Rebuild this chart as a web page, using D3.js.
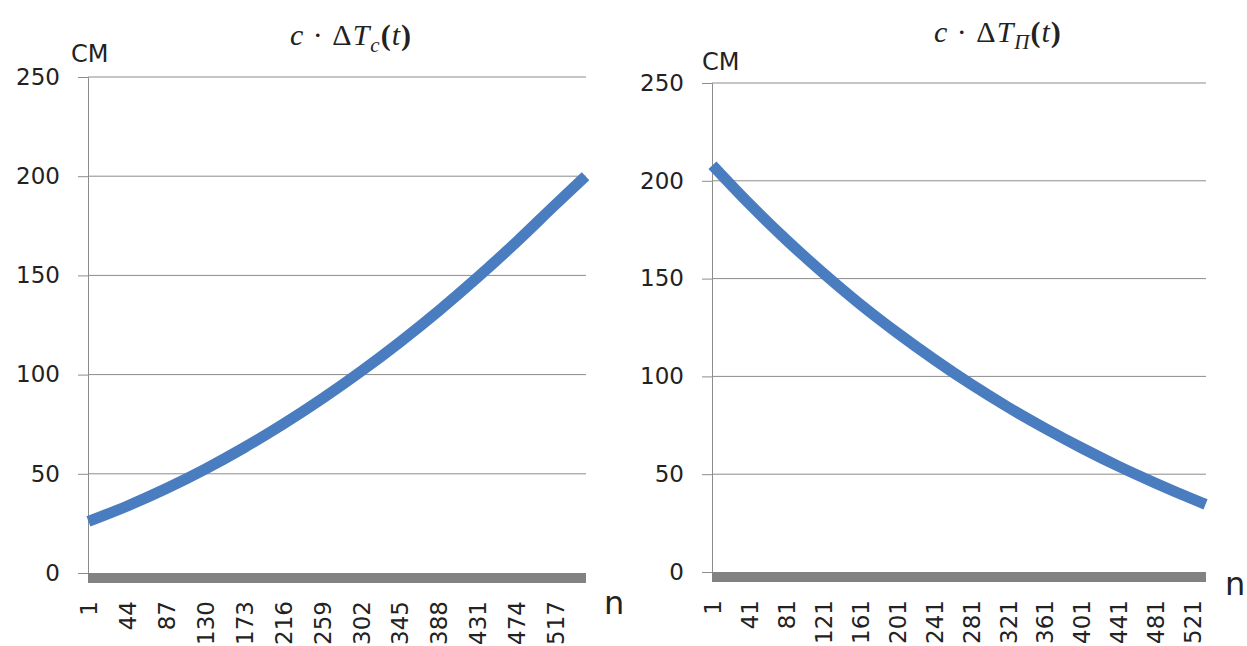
<!DOCTYPE html>
<html>
<head>
<meta charset="utf-8">
<script src="https://cdn.jsdelivr.net/npm/d3@7"></script>
<style>
    body { margin: 0; background: #ffffff; }
    text { font-family: "DejaVu Sans", sans-serif; fill: #222; }
</style>
</head>
<body>
<div id="chart"></div>
<script>
// left chart: c*dTc(t), read at the labelled categories
var countC = 550;
var nC = [1, 44, 87, 130, 173, 216, 259, 302, 345, 388, 431, 474, 517, 550];
var valC = [26, 33.8, 42.6, 52.4, 63.2, 75, 87.8, 101.6, 116.4, 132.2, 149.1, 167, 185.8, 200];
var ticksC = [1, 44, 87, 130, 173, 216, 259, 302, 345, 388, 431, 474, 517];

// right chart: c*dTp(t)
var countP = 535;
var nP = [1, 41, 81, 121, 161, 201, 241, 281, 321, 361, 401, 441, 481, 521, 535];
var valP = [208, 188.2, 169.8, 152.8, 136.9, 122.3, 108.7, 96, 84.3, 73.5, 63.4, 54, 45.4, 37.3, 34.6];
var ticksP = [1, 41, 81, 121, 161, 201, 241, 281, 321, 361, 401, 441, 481, 521];

var yTicks = [0, 50, 100, 150, 200, 250];

var svg = d3.select("#chart")
    .append("svg")
    .attr("width", 1247)
    .attr("height", 646);

drawChart({
    left: 88, right: 586, top: 77, bottom: 573,
    count: countC, n: nC, vals: valC, ticks: ticksC,
    titleX: 290, titleY: 45, sub: "c",
    unitX: 71, unitY: 62, nX: 604, nY: 614
});

drawChart({
    left: 712, right: 1206, top: 83, bottom: 572,
    count: countP, n: nP, vals: valP, ticks: ticksP,
    titleX: 934, titleY: 42, sub: "\u041f",
    unitX: 702, unitY: 70, nX: 1225, nY: 595
});

function drawChart(o) {
    var g = svg.append("g");

    var x = d3.scaleLinear()
        .domain([0.5, o.count + 0.5])
        .range([o.left, o.right]);

    var y = d3.scaleLinear()
        .domain([0, 250])
        .range([o.bottom, o.top]);

    // gridlines
    g.selectAll(".grid")
        .data(yTicks.filter(function (d) { return d > 0; }))
        .enter()
        .append("line")
        .attr("x1", o.left)
        .attr("x2", o.right)
        .attr("y1", function (d) { return y(d); })
        .attr("y2", function (d) { return y(d); })
        .attr("stroke", "#8c8c8c")
        .attr("stroke-width", 1);

    var yAxis = d3.axisLeft(y)
        .tickValues(yTicks)
        .tickSize(10)
        .tickPadding(18);

    var ya = g.append("g")
        .attr("transform", "translate(" + o.left + ",0)")
        .call(yAxis);
    ya.select(".domain").attr("stroke", "#8c8c8c");
    ya.selectAll(".tick line").attr("stroke", "#8c8c8c");
    ya.selectAll("text")
        .style("font-size", "23px")
        .attr("fill", "#222");

    // thick zero line
    g.append("rect")
        .attr("x", o.left)
        .attr("y", y(0))
        .attr("width", o.right - o.left)
        .attr("height", 10)
        .attr("fill", "#828282");

    var xAxis = d3.axisBottom(x)
        .tickValues(o.ticks)
        .tickSize(0);

    var xa = g.append("g")
        .attr("transform", "translate(0," + y(0) + ")")
        .call(xAxis);
    xa.select(".domain").remove();
    xa.selectAll("text")
        .attr("x", 0)
        .attr("y", 0)
        .attr("dy", "0.35em")
        .attr("text-anchor", "end")
        .attr("transform", "translate(0,28) rotate(-90)")
        .style("font-size", "23px")
        .attr("fill", "#222");

    var line = d3.line()
        .x(function (d, i) { return x(o.n[i]); })
        .y(function (d) { return y(d); })
        .curve(d3.curveMonotoneX);

    g.append("path")
        .datum(o.vals)
        .attr("d", line)
        .attr("fill", "none")
        .attr("stroke", "#4a7dbf")
        .attr("stroke-width", 11);

    // unit and axis names
    g.append("text")
        .attr("x", o.unitX)
        .attr("y", o.unitY)
        .style("font-size", "24px")
        .text("\u0421\u041c");

    g.append("text")
        .attr("x", o.nX)
        .attr("y", o.nY)
        .style("font-size", "32px")
        .text("n");

    // title c * dT_x(t)
    var t = g.append("text")
        .attr("x", o.titleX)
        .attr("y", o.titleY)
        .style("font-family", "'Liberation Serif', serif")
        .style("font-size", "30px")
        .style("letter-spacing", "1px");
    t.append("tspan").style("font-style", "italic").text("c");
    t.append("tspan").text(" \u00b7 \u0394");
    t.append("tspan").style("font-style", "italic").text("T");
    t.append("tspan").style("font-style", "italic").style("font-size", "21px")
        .attr("dy", 7).text(o.sub);
    t.append("tspan").style("font-weight", "bold").attr("dy", -7).text("(");
    t.append("tspan").style("font-style", "italic").text("t");
    t.append("tspan").style("font-weight", "bold").text(")");
}
</script>
</body>
</html>
